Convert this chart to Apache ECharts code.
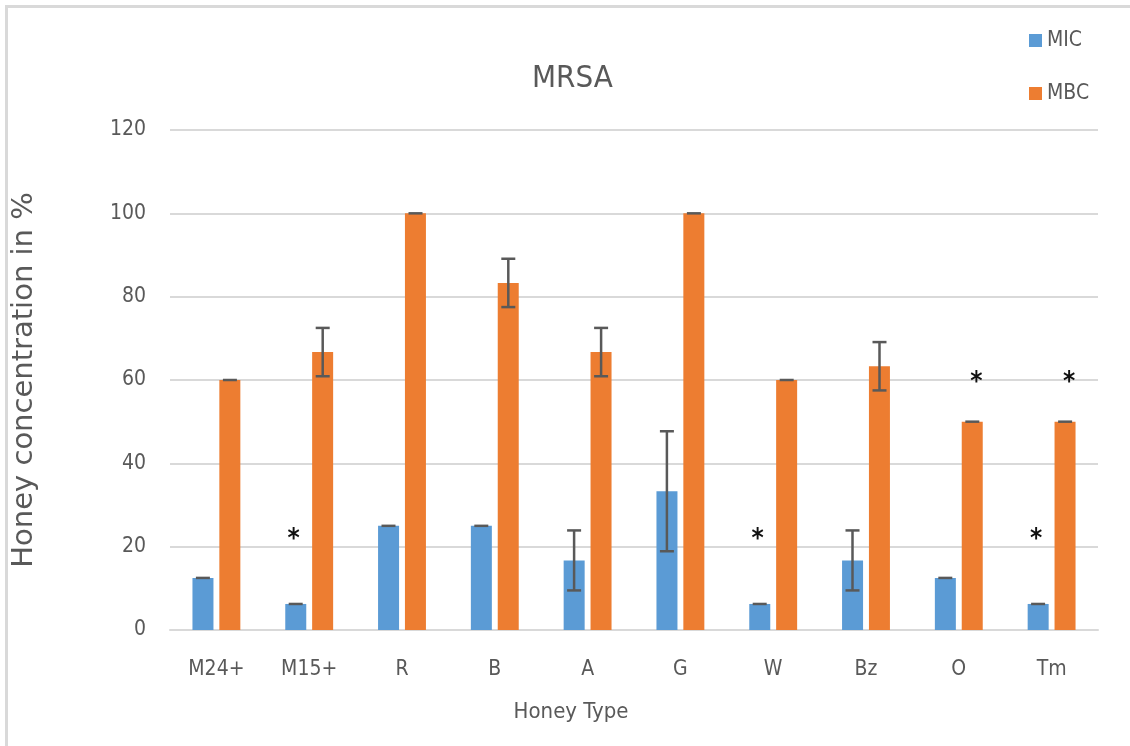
<!DOCTYPE html>
<html>
<head>
<meta charset="UTF-8">
<title>MRSA</title>
<style>
    html, body { margin: 0; padding: 0; background: #fff; }
    #main {
        position: absolute;
        left: 0; top: 0;
        width: 1130px; height: 746px;
    }
    .frame {
        position: absolute;
        left: 5px; top: 5px;
        width: 1125px; height: 741px;
        border-top: 3px solid #d9d9d9;
        border-left: 3px solid #d9d9d9;
        box-sizing: border-box;
        pointer-events: none;
    }
</style>
</head>
<body>
<div id="main"></div>
<div class="frame"></div>
<script src="https://cdn.jsdelivr.net/npm/echarts@6/dist/echarts.min.js"></script>
<script>
    // 数据
    var categories = ['M24+', 'M15+', 'R', 'B', 'A', 'G', 'W', 'Bz', 'O', 'Tm'];
    var micValues = [12.5, 6.25, 25, 25, 16.7, 33.3, 6.25, 16.7, 12.5, 6.25];
    var mbcValues = [60, 66.7, 100, 83.3, 66.7, 100, 60, 63.3, 50, 50];
    var micErr = [0, 0, 0, 0, 7.2, 14.4, 0, 7.2, 0, 0];
    var mbcErr = [0, 5.8, 0, 5.8, 5.8, 0, 0, 5.8, 0, 0];
    // 星号: [类别序号, 高度, 0=MIC / 1=MBC]
    var stars = [[1, 22.5, 0], [6, 22.5, 0], [9, 22.5, 0], [8, 60.3, 1], [9, 60.3, 1]];

    var narrow = "'Liberation Sans Narrow', 'DejaVu Sans Condensed', 'Open Sans', sans-serif";
    var wide = "'DejaVu Sans', 'Open Sans', sans-serif";
    var textColor = '#595959';
    var barW = 21;
    var shift = 13.5;

    function errData(vals, errs) {
        return vals.map(function (v, i) { return [i, v, errs[i]]; });
    }

    function errRender(offset) {
        return function (params, api) {
            var i = api.value(0), v = api.value(1), e = api.value(2);
            var top = api.coord([i, v + e]);
            var bot = api.coord([i, v - e]);
            var x = top[0] + offset;
            var style = { stroke: '#595959', lineWidth: 2.5 };
            var kids = [
                { type: 'line', shape: { x1: x - 7, y1: top[1], x2: x + 7, y2: top[1] }, style: style }
            ];
            if (e > 0) {
                kids.push({ type: 'line', shape: { x1: x, y1: top[1], x2: x, y2: bot[1] }, style: style });
                kids.push({ type: 'line', shape: { x1: x - 7, y1: bot[1], x2: x + 7, y2: bot[1] }, style: style });
            }
            return { type: 'group', children: kids };
        };
    }

    var chart = echarts.init(document.getElementById('main'));
    var option = {
        backgroundColor: '#fff',
        animation: false,
        title: {
            text: 'MRSA',
            left: 527,
            top: 58,
            textStyle: { fontFamily: narrow, fontSize: 31, fontWeight: 'normal', color: textColor }
        },
        legend: {
            orient: 'vertical',
            left: 1024,
            top: 25,
            itemGap: 32,
            itemWidth: 13,
            itemHeight: 13,
            icon: 'rect',
            data: ['MIC', 'MBC'],
            textStyle: { fontFamily: narrow, fontSize: 21, color: textColor }
        },
        grid: { left: 170, right: 32, top: 130, bottom: 116 },
        xAxis: {
            type: 'category',
            data: categories,
            name: 'Honey Type',
            nameLocation: 'middle',
            nameGap: 71,
            nameTextStyle: { fontFamily: narrow, fontSize: 22, color: textColor, padding: [0, 126, 0, 0] },
            axisLine: { lineStyle: { color: '#d9d9d9', width: 2 } },
            axisTick: { show: false },
            axisLabel: { fontFamily: narrow, fontSize: 21, color: textColor, margin: 29 }
        },
        yAxis: {
            type: 'value',
            min: 0, max: 120, interval: 20,
            name: 'Honey concentration in %',
            nameLocation: 'middle',
            nameGap: 131,
            nameTextStyle: { fontFamily: wide, fontSize: 29, color: textColor },
            axisLine: { show: false },
            axisTick: { show: false },
            axisLabel: { fontFamily: narrow, fontSize: 21, color: textColor, margin: 24 },
            splitLine: { lineStyle: { color: '#d9d9d9', width: 2 } }
        },
        series: [
            {
                name: 'MIC', type: 'bar', data: micValues,
                barWidth: barW, barGap: '28%',
                itemStyle: { color: '#5B9BD5' }
            },
            {
                name: 'MBC', type: 'bar', data: mbcValues,
                barWidth: barW,
                itemStyle: { color: '#ED7D31' }
            },
            {
                type: 'custom', data: errData(micValues, micErr),
                renderItem: errRender(-shift), z: 5, silent: true
            },
            {
                type: 'custom', data: errData(mbcValues, mbcErr),
                renderItem: errRender(shift), z: 5, silent: true
            },
            {
                type: 'custom', data: stars, z: 6, silent: true,
                renderItem: function (params, api) {
                    var p = api.coord([api.value(0), api.value(1)]);
                    var off = api.value(2) === 0 ? -shift - 2 : shift + 4;
                    return {
                        type: 'text',
                        style: {
                            text: '*', x: p[0] + off, y: p[1] + 4,
                            textAlign: 'center', textVerticalAlign: 'middle',
                            font: 'bold 26px ' + narrow, fill: '#111'
                        }
                    };
                }
            }
        ]
    };
    chart.setOption(option);
</script>
</body>
</html>
